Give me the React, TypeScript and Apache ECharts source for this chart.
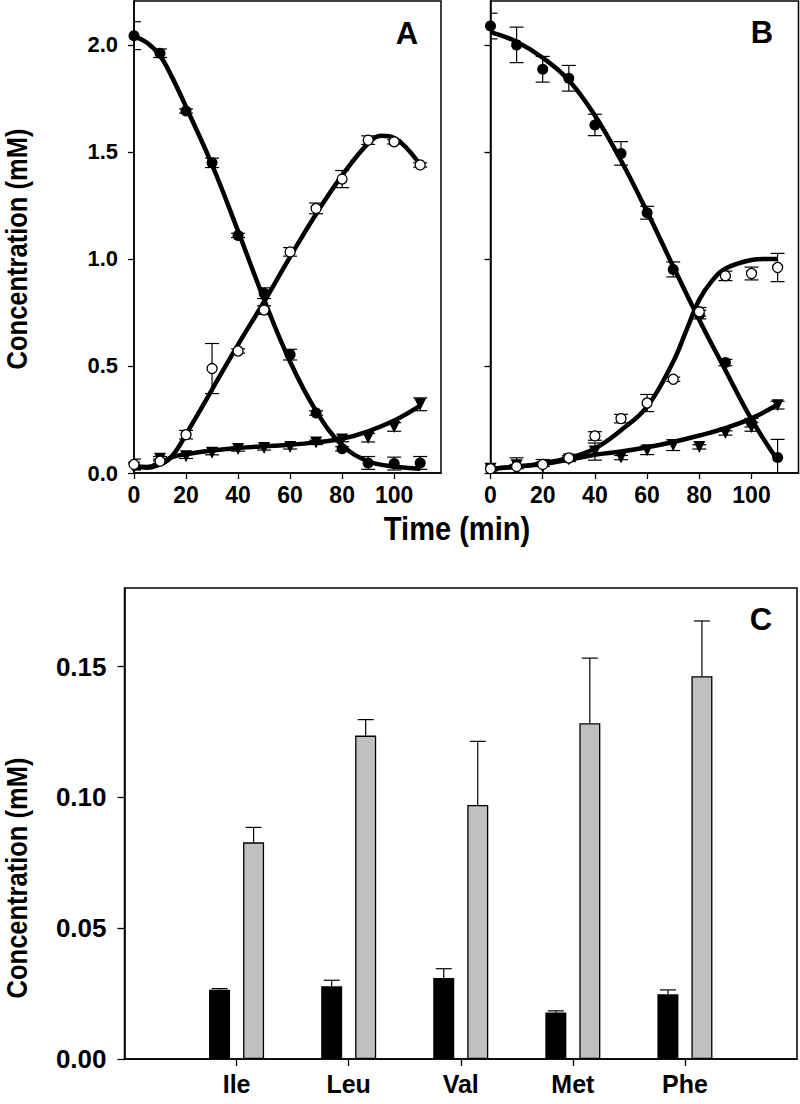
import React, { useEffect, useRef } from "react";
import * as echarts from "echarts";

// ---------- Data: panel A ----------
const timeA = [0, 10, 20, 30, 40, 50, 60, 70, 80, 90, 100, 110];
const filledA = [2.043, 1.961, 1.691, 1.449, 1.11, 0.84, 0.553, 0.28, 0.113, 0.047, 0.044, 0.047];
const filledAErr = [0.065, 0.02, 0.01, 0.022, 0.01, 0.025, 0.025, 0.01, 0.01, 0.03, 0.03, 0.03];
const openA = [0.04, 0.055, 0.179, 0.488, 0.57, 0.761, 1.033, 1.236, 1.373, 1.555, 1.547, 1.439];
const openAErr = [0.025, 0.01, 0.02, 0.117, 0.01, 0.02, 0.02, 0.025, 0.04, 0.02, 0.01, 0.01];
const triA = [0.025, 0.067, 0.078, 0.095, 0.112, 0.117, 0.122, 0.143, 0.156, 0.165, 0.215, 0.321];
const triAErr = [0.01, 0.01, 0.01, 0.01, 0.01, 0.01, 0.01, 0.01, 0.01, 0.02, 0.02, 0.03];

// fitted curves, panel A
const fitAFilledT = [0, 5, 10, 15, 20, 30, 40, 50, 60, 70, 80, 90, 100, 110];
const fitAFilled = [2.04, 2.01, 1.95, 1.84, 1.71, 1.44, 1.13, 0.81, 0.52, 0.29, 0.13, 0.055, 0.03, 0.02];
const fitAOpenT = [0, 5, 10, 13, 16, 20, 30, 40, 50, 60, 70, 80, 90, 95, 100, 105, 110];
const fitAOpen = [0.03, 0.025, 0.04, 0.06, 0.1, 0.18, 0.39, 0.6, 0.8, 1.01, 1.21, 1.39, 1.54, 1.575, 1.565, 1.515, 1.44];
const fitATriT = [0, 5, 10, 15, 20, 30, 40, 50, 60, 70, 80, 90, 100, 110];
const fitATri = [0.03, 0.028, 0.048, 0.075, 0.088, 0.105, 0.117, 0.125, 0.132, 0.143, 0.16, 0.195, 0.245, 0.315];

// ---------- Data: panel B ----------
const timeB = [0, 10, 20, 30, 40, 50, 60, 70, 80, 90, 100, 110];
const filledB = [2.088, 2.0, 1.886, 1.844, 1.626, 1.493, 1.216, 0.951, 0.74, 0.516, 0.235, 0.072];
const filledBErr = [0.06, 0.083, 0.06, 0.06, 0.05, 0.055, 0.03, 0.035, 0.02, 0.015, 0.02, 0.085];
const openB = [0.02, 0.03, 0.04, 0.07, 0.173, 0.254, 0.327, 0.438, 0.753, 0.921, 0.932, 0.96];
const openBErr = [0.01, 0.01, 0.01, 0.01, 0.02, 0.02, 0.04, 0.01, 0.02, 0.022, 0.03, 0.066];
const triB = [0.02, 0.036, 0.028, 0.063, 0.1, 0.072, 0.106, 0.13, 0.122, 0.187, 0.215, 0.317];
const triBErr = [0.01, 0.035, 0.035, 0.01, 0.04, 0.01, 0.02, 0.025, 0.01, 0.01, 0.02, 0.018];

const fitBT = [0, 10, 20, 30, 40, 50, 60, 70, 80, 90, 100, 110];
const fitBFilled = [2.06, 2.015, 1.94, 1.835, 1.67, 1.46, 1.22, 0.965, 0.715, 0.48, 0.25, 0.06];
const fitBOpenT = [0, 10, 20, 30, 40, 50, 60, 70, 75, 80, 85, 90, 100, 105, 110];
const fitBOpen = [0.02, 0.03, 0.045, 0.07, 0.115, 0.2, 0.31, 0.52, 0.665, 0.81, 0.9, 0.955, 0.995, 1.0, 1.0];
const fitBTri = [0.02, 0.03, 0.042, 0.062, 0.085, 0.1, 0.12, 0.145, 0.175, 0.21, 0.255, 0.32];

// ---------- Data: panel C ----------
const aminoAcids = ["Ile", "Leu", "Val", "Met", "Phe"];
const blackBars = [0.0265, 0.0278, 0.031, 0.0178, 0.0247];
const blackErr = [0.0004, 0.0023, 0.0035, 0.0006, 0.0017];
const greyBars = [0.0828, 0.1236, 0.0971, 0.1283, 0.1463];
const greyErr = [0.0057, 0.0061, 0.0243, 0.0249, 0.0211];

const timeTicks = [0, 20, 40, 60, 80, 100];
const concTicksAB = [0, 0.5, 1.0, 1.5, 2.0];
const concTicksC = [0, 0.05, 0.1, 0.15];

const FONT = "'Liberation Sans', Arial, Helvetica, sans-serif";

const zip = (xs: number[], ys: number[]) => xs.map((x, i) => [x, ys[i]]);

function errorSeries(xi: number, xs: number[], ys: number[], errs: number[]) {
  return {
    type: "custom",
    xAxisIndex: xi,
    yAxisIndex: xi,
    clip: true,
    z: 3,
    silent: true,
    encode: { x: 0, y: [1, 2] },
    data: xs.map((x, i) => [x, ys[i] - errs[i], ys[i] + errs[i]]),
    renderItem: (params: any, api: any) => {
      const x = api.value(0);
      const lo = api.coord([x, api.value(1)]);
      const hi = api.coord([x, api.value(2)]);
      const cap = 7;
      const st = { stroke: "#000", lineWidth: 1.2 };
      return {
        type: "group",
        children: [
          { type: "line", shape: { x1: lo[0], y1: lo[1], x2: hi[0], y2: hi[1] }, style: st },
          { type: "line", shape: { x1: hi[0] - cap, y1: hi[1], x2: hi[0] + cap, y2: hi[1] }, style: st },
          { type: "line", shape: { x1: lo[0] - cap, y1: lo[1], x2: lo[0] + cap, y2: lo[1] }, style: st },
        ],
      };
    },
  };
}

function fitSeries(xi: number, xs: number[], ys: number[]) {
  return {
    type: "line",
    xAxisIndex: xi,
    yAxisIndex: xi,
    data: zip(xs, ys),
    smooth: 0.4,
    showSymbol: false,
    symbol: "none",
    lineStyle: { color: "#000", width: 4.5, opacity: 1 },
    z: 2,
    silent: true,
  };
}

function pointSeries(xi: number, xs: number[], ys: number[], kind: string) {
  const base: any = {
    type: "scatter",
    xAxisIndex: xi,
    yAxisIndex: xi,
    data: zip(xs, ys),
    z: 4,
    silent: true,
  };
  if (kind === "filled") {
    base.symbol = "circle";
    base.symbolSize = 11;
    base.itemStyle = { color: "#000", opacity: 1 };
  } else if (kind === "open") {
    base.symbol = "circle";
    base.symbolSize = 10;
    base.itemStyle = { color: "#fff", borderColor: "#000", borderWidth: 1.3, opacity: 1 };
  } else {
    base.symbol = "triangle";
    base.symbolRotate = 180;
    base.symbolSize = 12;
    base.itemStyle = { color: "#000", opacity: 1 };
  }
  return base;
}

function barErrorSeries(vals: number[], errs: number[], offset: number) {
  return {
    type: "custom",
    xAxisIndex: 2,
    yAxisIndex: 2,
    z: 1,
    silent: true,
    data: vals.map((v, i) => [i + 1, v, v + errs[i]]),
    encode: { x: 0, y: [1, 2] },
    renderItem: (params: any, api: any) => {
      const idx = api.value(0);
      const lo = api.coord([idx, api.value(1)]);
      const hi = api.coord([idx, api.value(2)]);
      const x = lo[0] + offset;
      const cap = 8;
      const st = { stroke: "#000", lineWidth: 1.2 };
      return {
        type: "group",
        children: [
          { type: "line", shape: { x1: x, y1: lo[1], x2: x, y2: hi[1] }, style: st },
          { type: "line", shape: { x1: x - cap, y1: hi[1], x2: x + cap, y2: hi[1] }, style: st },
        ],
      };
    },
  };
}

const axisLine = { show: true, lineStyle: { color: "#000", width: 1.5 } };

function timeAxis(gi: number) {
  return {
    type: "value",
    gridIndex: gi,
    min: 0,
    max: 118,
    interval: 20,
    axisLine,
    splitLine: { show: false },
    axisTick: { show: true, inside: false, length: 6, lineStyle: { color: "#000", width: 1.3 }, customValues: timeTicks },
    axisLabel: {
      customValues: timeTicks,
      margin: 10,
      color: "#000",
      fontFamily: FONT,
      fontWeight: "bold",
      fontSize: 23,
    },
  };
}

function concAxis(gi: number, showLabels: boolean) {
  return {
    type: "value",
    gridIndex: gi,
    min: 0,
    max: 2.205,
    interval: 0.5,
    axisLine,
    splitLine: { show: false },
    axisTick: { show: true, inside: false, length: 6, lineStyle: { color: "#000", width: 1.3 }, customValues: concTicksAB },
    axisLabel: {
      show: showLabels,
      customValues: concTicksAB,
      formatter: (v: number) => v.toFixed(1),
      margin: 16,
      color: "#000",
      fontFamily: FONT,
      fontWeight: "bold",
      fontSize: 22,
    },
  };
}

export default function App() {
  const ref = useRef<HTMLDivElement>(null);
  useEffect(() => {
    if (!ref.current) return;
    const chart = echarts.init(ref.current, undefined, { renderer: "svg" });
    const gridStyle = { show: true, borderColor: "#000", borderWidth: 1.5, backgroundColor: "transparent" };
    const cats = ["", ...aminoAcids, ""];
    const titleStyle = (text: string, size: number) => ({
      text,
      fill: "#000",
      font: `bold ${size}px ${FONT}`,
      align: "center",
      verticalAlign: "middle",
      textAlign: "center",
      textVerticalAlign: "middle",
    });
    const option: any = {
      animation: false,
      backgroundColor: "#fff",
      grid: [
        { left: 134, top: 1, width: 307, height: 472, ...gridStyle },
        { left: 490.5, top: 1, width: 308, height: 472, ...gridStyle },
        { left: 124.5, top: 588, width: 674, height: 471, ...gridStyle },
      ],
      xAxis: [
        timeAxis(0),
        timeAxis(1),
        {
          type: "category",
          gridIndex: 2,
          data: cats,
          boundaryGap: false,
          axisLine,
          axisTick: {
            show: true,
            length: 7,
            lineStyle: { color: "#000", width: 1.3 },
            interval: (i: number) => i >= 1 && i <= 5,
          },
          axisLabel: {
            interval: 0,
            margin: 12,
            color: "#000",
            fontFamily: FONT,
            fontWeight: "bold",
            fontSize: 25,
          },
          splitLine: { show: false },
        },
      ],
      yAxis: [
        concAxis(0, true),
        concAxis(1, false),
        {
          type: "value",
          gridIndex: 2,
          min: 0,
          max: 0.18,
          interval: 0.05,
          axisLine,
          splitLine: { show: false },
          axisTick: { show: true, length: 7, lineStyle: { color: "#000", width: 1.3 }, customValues: concTicksC },
          axisLabel: {
            customValues: concTicksC,
            formatter: (v: number) => v.toFixed(2),
            margin: 18,
            color: "#000",
            fontFamily: FONT,
            fontWeight: "bold",
            fontSize: 26,
          },
        },
      ],
      series: [
        fitSeries(0, fitAFilledT, fitAFilled),
        fitSeries(0, fitAOpenT, fitAOpen),
        fitSeries(0, fitATriT, fitATri),
        errorSeries(0, timeA, filledA, filledAErr),
        errorSeries(0, timeA, openA, openAErr),
        errorSeries(0, timeA, triA, triAErr),
        pointSeries(0, timeA, filledA, "filled"),
        pointSeries(0, timeA, triA, "tri"),
        pointSeries(0, timeA, openA, "open"),

        fitSeries(1, fitBT, fitBFilled),
        fitSeries(1, fitBOpenT, fitBOpen),
        fitSeries(1, fitBT, fitBTri),
        errorSeries(1, timeB, filledB, filledBErr),
        errorSeries(1, timeB, openB, openBErr),
        errorSeries(1, timeB, triB, triBErr),
        pointSeries(1, timeB, filledB, "filled"),
        pointSeries(1, timeB, triB, "tri"),
        pointSeries(1, timeB, openB, "open"),

        barErrorSeries(blackBars, blackErr, -17),
        barErrorSeries(greyBars, greyErr, 17),
        {
          type: "bar",
          xAxisIndex: 2,
          yAxisIndex: 2,
          data: ["-", ...blackBars, "-"],
          barWidth: 21,
          barGap: "62%",
          z: 2,
          itemStyle: { color: "#000", opacity: 1 },
          silent: true,
        },
        {
          type: "bar",
          xAxisIndex: 2,
          yAxisIndex: 2,
          data: ["-", ...greyBars, "-"],
          barWidth: 21,
          barGap: "62%",
          z: 2,
          itemStyle: { color: "#c0c0c0", borderColor: "#000", borderWidth: 1.3, opacity: 1 },
          silent: true,
        },
      ],
      graphic: [
        { type: "text", x: 17, y: 249, rotation: Math.PI / 2, scaleX: 0.88, style: titleStyle("Concentration (mM)", 29) },
        { type: "text", x: 17, y: 878, rotation: Math.PI / 2, scaleX: 0.88, style: titleStyle("Concentration (mM)", 29) },
        { type: "text", x: 457, y: 529, scaleX: 0.88, style: titleStyle("Time (min)", 33) },
        { type: "text", x: 407, y: 33, style: titleStyle("A", 31) },
        { type: "text", x: 762, y: 32, style: titleStyle("B", 31) },
        { type: "text", x: 761, y: 619, style: titleStyle("C", 31) },
      ],
    };
    chart.setOption(option);
    return () => chart.dispose();
  }, []);
  return (
    <div
      ref={ref}
      style={{ position: "absolute", left: 0, top: 0, width: 800, height: 1104, background: "#fff" }}
    />
  );
}
